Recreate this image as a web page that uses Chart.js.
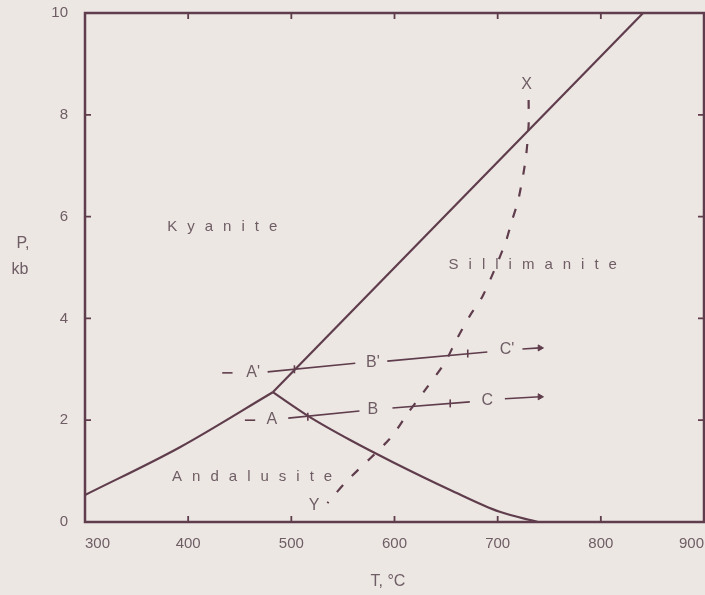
<!DOCTYPE html>
<html>
<head>
<meta charset="utf-8">
<script src="https://cdn.jsdelivr.net/npm/chart.js@4.4.1/dist/chart.umd.min.js"></script>
<style>
  html, body { margin: 0; padding: 0; background: #ede7e4; }
  #wrap { width: 705px; height: 595px; }
</style>
</head>
<body>
<div id="wrap"><canvas id="myChart" width="705" height="595"></canvas></div>
<script>
// phase boundaries (T in degC, P in kb)
const kyaniteAndalusite = [[300, 0.53], [392, 1.47], [482, 2.55]];
const kyaniteSillimanite = [[482, 2.55], [841, 10]];
const andalusiteSillimanite = [[482, 2.55], [518, 2.06], [557, 1.61], [598, 1.18], [654, 0.63], [702, 0.2], [739, 0]];
// dashed curve from X down to Y
const pathXY = [[730, 8.29], [730, 7.8], [727, 7.11], [720, 6.33], [714, 5.93], [707, 5.46],
  [686, 4.46], [673, 4.05], [660, 3.58], [649, 3.14], [631, 2.63], [613, 2.14],
  [596, 1.65], [555, 0.83], [540, 0.49], [535, 0.37]];

// heating paths A'-B'-C' and A-B-C
const pathUpper = [
  [[433, 2.93], [443, 2.93]],
  [[477, 2.95], [562, 3.12]],
  [[593, 3.16], [690, 3.34]]
];
const arrowUpper = [[724, 3.40], [741, 3.42]];
const ticksUpper = [[503, 3.0], [671, 3.31]];

const pathLower = [
  [[455, 2.0], [465, 2.0]],
  [[497, 2.04], [566, 2.18]],
  [[598, 2.24], [673, 2.36]]
];
const arrowLower = [[707, 2.42], [741, 2.46]];
const ticksLower = [[516, 2.07], [654, 2.33]];

// labels placed in data coordinates
const regionLabels = [
  [433, 5.8, 'Kyanite'],
  [734, 5.05, 'Sillimanite'],
  [462, 0.88, 'Andalusite']
];
const pointLabels = [
  [728, 8.6, 'X'], [522, 0.33, 'Y'],
  [463, 2.93, "A'"], [579, 3.14, "B'"], [709, 3.38, "C'"],
  [481, 2.02, 'A'], [579, 2.2, 'B'], [690, 2.38, 'C']
];

const xTicks = [300, 400, 500, 600, 700, 800, 900];
const yTicks = [0, 2, 4, 6, 8, 10];

const lineColor = '#5f3d4c';
const textColor = '#6e5d64';
const fontFamily = '"Liberation Sans", Arial, sans-serif';

const toPts = arr => arr.map(p => ({ x: p[0], y: p[1] }));

function solid(data, width) {
  return { data: toPts(data), showLine: true, borderColor: lineColor, borderWidth: width,
    pointRadius: 0, fill: false };
}

const datasets = [
  Object.assign(solid(kyaniteAndalusite, 2.2), { cubicInterpolationMode: 'monotone' }),
  solid(kyaniteSillimanite, 2.2),
  Object.assign(solid(andalusiteSillimanite, 2.2), { cubicInterpolationMode: 'monotone' }),
  Object.assign(solid(pathXY, 2.2), { borderDash: [9, 13], tension: 0.3 })
];
pathUpper.concat(pathLower).forEach(seg => datasets.push(solid(seg, 1.6)));
[arrowUpper, arrowLower].forEach(seg => {
  datasets.push({
    data: toPts(seg), showLine: true, borderColor: lineColor, borderWidth: 1.6,
    pointStyle: 'triangle', rotation: 90, pointRadius: [0, 3.5],
    pointBackgroundColor: lineColor, pointBorderColor: lineColor, pointBorderWidth: 1
  });
});
datasets.push({
  data: toPts(ticksUpper.concat(ticksLower)), showLine: false,
  pointStyle: 'line', rotation: 90, pointRadius: 4, pointBorderColor: lineColor,
  pointBorderWidth: 1.6
});

function spacedText(ctx, text, cx, cy, spacing) {
  const widths = [...text].map(c => ctx.measureText(c).width);
  const total = widths.reduce((a, b) => a + b, 0) + spacing * (text.length - 1);
  let x = cx - total / 2;
  [...text].forEach((c, i) => {
    ctx.fillText(c, x, cy);
    x += widths[i] + spacing;
  });
}

const decorations = {
  id: 'decorations',
  afterDatasetsDraw(chart) {
    const { ctx, chartArea: a, scales: { x, y } } = chart;
    ctx.save();
    // frame
    ctx.strokeStyle = lineColor;
    ctx.lineWidth = 2.5;
    ctx.strokeRect(a.left, a.top, a.right - a.left, a.bottom - a.top);
    // inward ticks
    ctx.lineWidth = 1.8;
    xTicks.slice(1, -1).forEach(v => {
      const px = x.getPixelForValue(v);
      ctx.beginPath();
      ctx.moveTo(px, a.bottom); ctx.lineTo(px, a.bottom - 6);
      ctx.moveTo(px, a.top); ctx.lineTo(px, a.top + 6);
      ctx.stroke();
    });
    yTicks.slice(1, -1).forEach(v => {
      const py = y.getPixelForValue(v);
      ctx.beginPath();
      ctx.moveTo(a.left, py); ctx.lineTo(a.left + 6, py);
      ctx.moveTo(a.right, py); ctx.lineTo(a.right - 6, py);
      ctx.stroke();
    });
    // texts
    ctx.fillStyle = textColor;
    ctx.textBaseline = 'middle';
    ctx.textAlign = 'left';
    ctx.font = '15px ' + fontFamily;
    regionLabels.forEach(l => spacedText(ctx, l[2], x.getPixelForValue(l[0]), y.getPixelForValue(l[1]), 10));
    ctx.font = '16px ' + fontFamily;
    pointLabels.forEach(l => spacedText(ctx, l[2], x.getPixelForValue(l[0]), y.getPixelForValue(l[1]), 0));
    // axis titles
    ctx.textAlign = 'center';
    ctx.font = '16px ' + fontFamily;
    ctx.fillText('P,', 23, 244);
    ctx.fillText('kb', 20, 270);
    ctx.fillText('T, \u00B0C', 388, 582);
    ctx.restore();
  }
};

new Chart(document.getElementById('myChart'), {
  type: 'scatter',
  data: { datasets },
  options: {
    responsive: false,
    animation: false,
    layout: { autoPadding: false, padding: { top: 13, right: 1, left: 0, bottom: 0 } },
    plugins: { legend: { display: false }, tooltip: { enabled: false } },
    scales: {
      x: {
        type: 'linear', min: 300, max: 900,
        afterBuildTicks: s => { s.ticks = xTicks.map(v => ({ value: v })); },
        afterFit: s => { s.height = 73; s.paddingLeft = 0; s.paddingRight = 0; },
        grid: { display: false, drawTicks: false },
        border: { display: false },
        ticks: { align: 'inner', padding: 13, color: textColor, font: { size: 15, family: fontFamily } }
      },
      y: {
        type: 'linear', min: 0, max: 10,
        afterBuildTicks: s => { s.ticks = yTicks.map(v => ({ value: v })); },
        afterFit: s => { s.width = 85; s.paddingTop = 0; s.paddingBottom = 0; },
        grid: { display: false, drawTicks: false },
        border: { display: false },
        ticks: { padding: 17, color: textColor, font: { size: 15, family: fontFamily } }
      }
    }
  },
  plugins: [decorations]
});
</script>
</body>
</html>
